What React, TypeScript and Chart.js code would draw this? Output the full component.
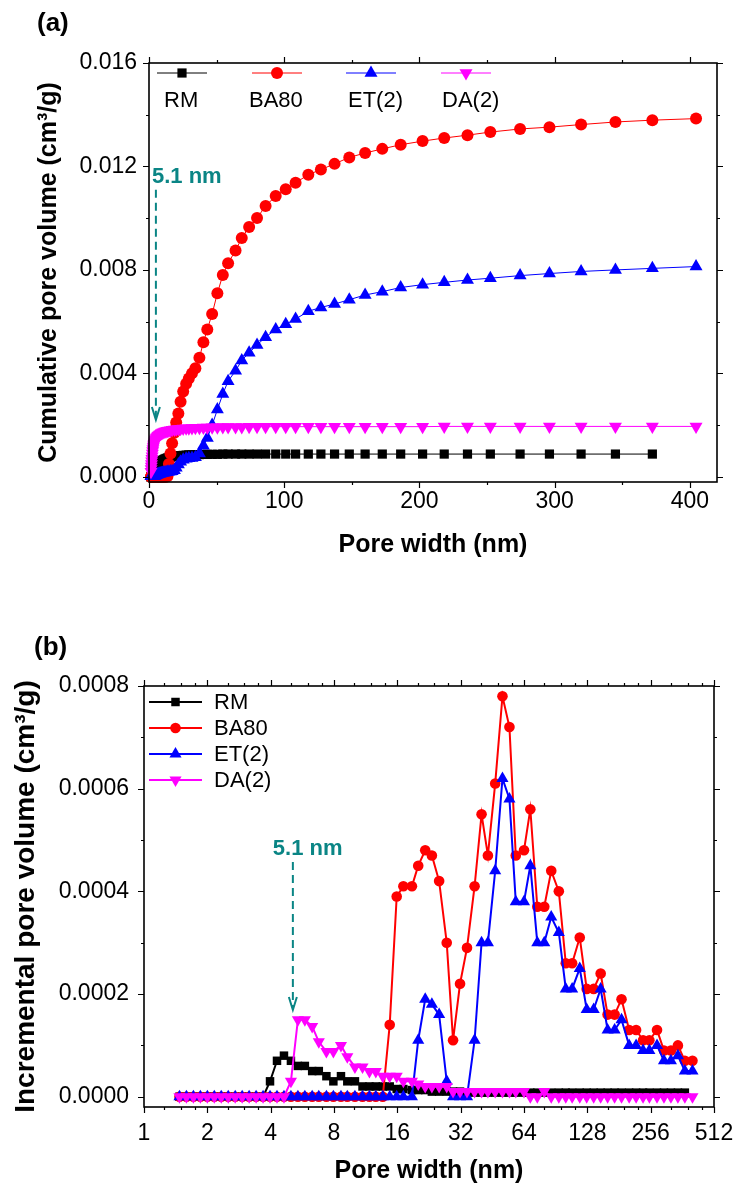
import React, { useEffect, useRef } from "react";
import { Chart, registerables } from "chart.js";
import { drawPoint } from "chart.js/helpers";

Chart.register(...registerables);

const FONT = 'Arial, "Liberation Sans", Helvetica, sans-serif';

// ---------------- DATA ----------------
const seriesNames = ["RM", "BA80", "ET(2)", "DA(2)"];

// pore width grid (nm), shared by both panels
const poreWidth = [
  1.474, 1.591, 1.717, 1.853, 2.0, 2.158, 2.329, 2.514, 2.713, 2.928,
  3.16, 3.411, 3.681, 3.972, 4.287, 4.627, 4.993, 5.389, 5.816, 6.3,
  6.774, 7.362, 7.945, 8.635, 9.254, 10.06, 10.93, 11.79, 12.64, 13.64,
  14.72, 15.89, 17.09, 18.77, 20.11, 21.71, 23.35, 25.28, 27.47, 29.44,
  31.78, 34.3, 37.27, 40.22, 43.11, 46.69, 50.56, 54.57, 58.49, 64.0,
  68.59, 74.03, 79.89, 86.22, 93.7, 101.1, 108.4, 117.8, 127.1, 137.2,
  148.1, 159.8, 172.5, 186.1, 202.3, 218.3, 235.5, 252.4, 274.4, 296.1,
  319.5, 344.9, 372.2, 404.5,
];

// (a) cumulative pore volume (cm3/g)
const cumRM = [
  0, 0, 0, 0, 0, 0, 0, 0, 0, 0,
  0, 0, 0, 0.00003, 0.0001, 0.00018, 0.00025, 0.00031, 0.00037, 0.00042,
  0.00047, 0.00051, 0.00054, 0.00058, 0.00061, 0.00064, 0.00067, 0.00069, 0.00071, 0.00073,
  0.00075, 0.00076, 0.00078, 0.00079, 0.0008, 0.00081, 0.00082, 0.00083, 0.00084, 0.00085,
  0.00085, 0.00086, 0.00086, 0.00087, 0.00087, 0.00087, 0.00087, 0.00088, 0.00088, 0.00088,
  0.00088, 0.00088, 0.00088, 0.00088, 0.00088, 0.00088, 0.00088, 0.00088, 0.00088, 0.00088,
  0.00088, 0.00088, 0.00088, 0.00088, 0.00088, 0.00088, 0.00088, 0.00088, 0.00088, 0.00088,
  0.00088, 0.00088, 0.00088, null,
];
const cumBA80 = [
  0, 0, 0, 0, 0, 0, 0, 0, 0, 0,
  0, 0, 0, 0, 0, 0, 0, 0, 0, 0,
  0, 0, 0, 0, 0, 0, 0, 0, 0, 0.00002,
  0.0005, 0.0009, 0.0013, 0.0017, 0.0021, 0.00245, 0.0029, 0.0033, 0.0036, 0.0038,
  0.004, 0.0042, 0.0046, 0.0052, 0.0057, 0.0063, 0.0071, 0.0078, 0.00826, 0.00875,
  0.00923, 0.00966, 0.01001, 0.01047, 0.01086, 0.01112, 0.01137, 0.01168, 0.01188, 0.0121,
  0.01235, 0.01252, 0.01268, 0.01284, 0.01298, 0.0131, 0.01321, 0.01333, 0.01345, 0.01352,
  0.01362, 0.01372, 0.01379, 0.01385,
];
const cumET = [
  0.00002, 0.00002, 0.00002, 0.00002, 0.00002, 0.00002, 0.00002, 0.00002, 0.00002, 0.00002,
  0.00002, 0.00002, 0.00002, 0.00003, 0.00004, 0.00005, 0.00006, 0.00007, 0.00008, 0.00009,
  0.0001, 0.00011, 0.00012, 0.00013, 0.00014, 0.00015, 0.00016, 0.00017, 0.00018, 0.00019,
  0.0002, 0.00021, 0.00022, 0.00025, 0.00035, 0.00048, 0.00058, 0.00066, 0.0007, 0.00072,
  0.00073, 0.00076, 0.0009, 0.0012, 0.0015, 0.002, 0.0026, 0.0032, 0.0037, 0.0041,
  0.0045, 0.0048, 0.0051, 0.0054, 0.0057, 0.0059, 0.0061, 0.0064, 0.00655, 0.00668,
  0.00685, 0.00703, 0.00716, 0.00732, 0.00743, 0.00752, 0.00761, 0.00768, 0.00778, 0.00786,
  0.00794, 0.008, 0.00806, 0.00813,
];
const cumDA = [
  0.0002, 0.0003, 0.0004, 0.0005, 0.0006, 0.0007, 0.0008, 0.0009, 0.001, 0.00108,
  0.00115, 0.00122, 0.00128, 0.00133, 0.00138, 0.00142, 0.00146, 0.0015, 0.00153, 0.00156,
  0.00159, 0.00162, 0.00164, 0.00167, 0.00169, 0.00171, 0.00173, 0.00175, 0.00176, 0.00178,
  0.00179, 0.0018, 0.00182, 0.00183, 0.00184, 0.00185, 0.00186, 0.00187, 0.00188, 0.00188,
  0.00189, 0.0019, 0.0019, 0.00191, 0.00191, 0.00192, 0.00192, 0.00193, 0.00193, 0.00193,
  0.00193, 0.00194, 0.00194, 0.00194, 0.00194, 0.00194, 0.00194, 0.00194, 0.00194, 0.00194,
  0.00194, 0.00194, 0.00194, 0.00194, 0.00194, 0.00195, 0.00195, 0.00195, 0.00195, 0.00195,
  0.00195, 0.00195, 0.00195, 0.00195,
];

// (b) incremental pore volume (cm3/g)
const incRM = [
  0, 0, 0, 0, 0, 0, 0, 0, 0, 0,
  0, 0, 0, 0.00003, 0.00007, 0.00008, 0.00007, 0.00006, 0.00006, 0.00005,
  0.00005, 0.00004, 0.00003, 0.00004, 0.00003, 0.00003, 0.00002, 0.00002, 0.00002, 0.00002,
  0.00002, 0.000015, 0.000015, 0.000013, 0.000013, 0.000013, 0.00001, 0.00001, 0.00001, 0.00001,
  0.00001, 0.000008, 0.000008, 0.000008, 0.000008, 0.000008, 0.000008, 0.000008, 0.000008, 0.000008,
  0.000008, 0.000008, 0.000008, 0.000008, 0.000008, 0.000008, 0.000008, 0.000008, 0.000008, 0.000008,
  0.000008, 0.000008, 0.000008, 0.000008, 0.000008, 0.000008, 0.000008, 0.000008, 0.000008, 0.000008,
  0.000008, 0.000008, 0.000008, null,
];
const incBA80 = [
  0, 0, 0, 0, 0, 0, 0, 0, 0, 0,
  0, 0, 0, 0, 0, 0, 0, 0, 0, 0,
  0, 0, 0, 0, 0, 0, 0, 0, 0, 0,
  0.00014, 0.00039, 0.00041, 0.00041, 0.00045, 0.00048, 0.00047, 0.00042, 0.0003, 0.00011,
  0.00022, 0.00029, 0.00041, 0.00055, 0.00047, 0.00061, 0.00078, 0.00072, 0.00047, 0.00048,
  0.00056, 0.00037, 0.00037, 0.00044, 0.0004, 0.00026, 0.00026, 0.00031, 0.00021, 0.00021,
  0.00024, 0.00016, 0.00016, 0.00019, 0.00013, 0.00013, 0.00011, 0.00011, 0.00013, 0.00009,
  0.00009, 0.0001, 0.00007, 0.00007,
];
const incET = [
  0, 0, 0, 0, 0, 0, 0, 0, 0, 0,
  0, 0, 0, 0, 0, 0, 0, 0, 0, 0,
  0, 0, 0, 0, 0, 0, 0, 0, 0, 0,
  0, 0, 0, 0, 0.00011, 0.00019, 0.00018, 0.00016, 0.00003, 0,
  0, 0, 0.00011, 0.0003, 0.0003, 0.00044, 0.00062, 0.00058, 0.00038, 0.00038,
  0.00045, 0.0003, 0.0003, 0.00035, 0.00032, 0.00021, 0.00021, 0.00025, 0.00017, 0.00017,
  0.00021, 0.00013, 0.00013, 0.00015, 0.0001, 0.0001, 0.00009, 0.00009, 0.0001, 0.00007,
  0.00007, 0.00008, 0.00005, 0.00005,
];
const incDA = [
  0, 0, 0, 0, 0, 0, 0, 0, 0, 0,
  0, 0, 0, 0, 0, 0, 0.00003, 0.00015, 0.00015, 0.000137,
  0.000107, 0.000088, 0.000088, 0.0001, 0.000078, 0.000058, 0.000058, 0.000049, 0.000049, 0.00004,
  0.00004, 0.00004, 0.00003, 0.00003, 0.000025, 0.00002, 0.00002, 0.00002, 0.00002, 0.00001,
  0.00001, 0.00001, 0.00001, 0.00001, 0.00001, 0.00001, 0.00001, 0.00001, 0.00001, 0.00001,
  0, 0, 0.00001, 0, 0, 0, 0, 0, 0, 0,
  0, 0, 0, 0, 0, 0, 0, 0, 0, 0,
  0, 0, 0, 0,
];

// axis ticks
const cumXTicks = [0, 100, 200, 300, 400];
const cumXMinor = [50, 150, 250, 350];
const cumYTicks = [0, 0.004, 0.008, 0.012, 0.016];
const cumYMinor = [0.002, 0.006, 0.01, 0.014];
const incXTicks = [1, 2, 4, 8, 16, 32, 64, 128, 256, 512];
const incYTicks = [0, 0.0002, 0.0004, 0.0006, 0.0008];
const incYMinor = [0.0001, 0.0003, 0.0005, 0.0007];
const notedWidth = 5.1; // "5.1 nm" annotation

// ---------------- STYLES ----------------
const styles = [
  { color: "#000000", pointStyle: "rect", rotation: 0, order: 4 },
  { color: "#ff0000", pointStyle: "circle", rotation: 0, order: 3 },
  { color: "#0000ff", pointStyle: "triangle", rotation: 0, order: 2 },
  { color: "#ff00ff", pointStyle: "triangle", rotation: 180, order: 1 },
];
const radiiA = [6.5, 6, 7.5, 7.5];
const radiiB = [6, 5.3, 7, 7];
const TEAL = "#0a8585";

function makeDatasets(values: (number | null)[][], lineWidth: number, radii: number[]) {
  return values.map((arr, si) => {
    const st = styles[si];
    return {
      label: seriesNames[si],
      data: poreWidth.map((x, i) => ({ x, y: arr[i] })),
      borderColor: st.color,
      backgroundColor: st.color,
      borderWidth: lineWidth,
      pointStyle: st.pointStyle,
      pointRotation: st.rotation,
      pointRadius: radii[si],
      pointBackgroundColor: st.color,
      pointBorderColor: st.color,
      pointBorderWidth: 0,
      tension: 0,
      order: st.order,
      clip: false,
    };
  });
}

function framePlugin(xMajor: number[], xMinor: number[], yMajor: number[], yMinor: number[]) {
  return {
    id: "frame",
    afterDatasetsDraw(chart: any) {
      const { ctx, chartArea: a } = chart;
      const xs = chart.scales.x;
      const ys = chart.scales.y;
      ctx.save();
      ctx.strokeStyle = "#000";
      ctx.lineWidth = 1.2;
      ctx.beginPath();
      const tx = (v: number, len: number) => {
        const p = Math.round(xs.getPixelForValue(v)) + 0.5;
        ctx.moveTo(p, a.bottom);
        ctx.lineTo(p, a.bottom + len);
        ctx.moveTo(p, a.top);
        ctx.lineTo(p, a.top - len);
      };
      const ty = (v: number, len: number) => {
        const p = Math.round(ys.getPixelForValue(v)) + 0.5;
        ctx.moveTo(a.left, p);
        ctx.lineTo(a.left - len, p);
        ctx.moveTo(a.right, p);
        ctx.lineTo(a.right + len, p);
      };
      xMajor.forEach((v) => tx(v, 6));
      xMinor.forEach((v) => tx(v, 3));
      yMajor.forEach((v) => ty(v, 6));
      yMinor.forEach((v) => ty(v, 3));
      ctx.stroke();
      ctx.lineWidth = 1.6;
      ctx.strokeRect(a.left, a.top, a.right - a.left, a.bottom - a.top);
      ctx.restore();
    },
  };
}

function drawMarker(ctx: CanvasRenderingContext2D, si: number, x: number, y: number, r: number) {
  const st = styles[si];
  ctx.save();
  ctx.fillStyle = st.color;
  ctx.strokeStyle = st.color;
  drawPoint(ctx, { pointStyle: st.pointStyle, rotation: st.rotation, radius: r, borderWidth: 0 } as any, x, y);
  ctx.restore();
}

function drawArrow(ctx: CanvasRenderingContext2D, x: number, y0: number, y1: number) {
  ctx.save();
  ctx.strokeStyle = TEAL;
  ctx.lineWidth = 2;
  ctx.setLineDash([8, 5]);
  ctx.beginPath();
  ctx.moveTo(x, y0);
  ctx.lineTo(x, y1 - 2);
  ctx.stroke();
  ctx.setLineDash([]);
  ctx.beginPath();
  ctx.moveTo(x - 4, y1 - 13);
  ctx.lineTo(x, y1);
  ctx.lineTo(x + 4, y1 - 13);
  ctx.stroke();
  ctx.restore();
}

const annotA = {
  id: "annotA",
  afterDraw(chart: any) {
    const { ctx } = chart;
    const xs = chart.scales.x;
    const ys = chart.scales.y;
    ctx.save();
    ctx.fillStyle = "#000";
    ctx.textBaseline = "middle";
    ctx.textAlign = "left";
    ctx.font = `bold 26px ${FONT}`;
    ctx.fillText("(a)", 37, 24);
    // legend: sample row + label row
    const centers = [182, 277, 371, 466];
    const labelLeft = [164, 249, 348, 442];
    centers.forEach((cx, si) => {
      ctx.strokeStyle = styles[si].color;
      ctx.lineWidth = 1;
      ctx.beginPath();
      ctx.moveTo(cx - 25, 73);
      ctx.lineTo(cx + 25, 73);
      ctx.stroke();
      drawMarker(ctx, si, cx, 73, radiiA[si]);
      ctx.fillStyle = "#000";
      ctx.font = `22px ${FONT}`;
      ctx.textAlign = "left";
      ctx.fillText(seriesNames[si], labelLeft[si], 101);
    });
    // 5.1 nm annotation
    const px = xs.getPixelForValue(notedWidth);
    ctx.fillStyle = TEAL;
    ctx.font = `bold 22px ${FONT}`;
    ctx.textAlign = "left";
    ctx.fillText("5.1 nm", xs.getPixelForValue(2.2), ys.getPixelForValue(0.0116));
    drawArrow(ctx, px, ys.getPixelForValue(0.0111), ys.getPixelForValue(0.0022));
    ctx.restore();
  },
};

const annotB = {
  id: "annotB",
  afterDraw(chart: any) {
    const { ctx } = chart;
    const xs = chart.scales.x;
    const ys = chart.scales.y;
    ctx.save();
    ctx.fillStyle = "#000";
    ctx.textBaseline = "middle";
    ctx.textAlign = "left";
    ctx.font = `bold 26px ${FONT}`;
    ctx.fillText("(b)", 34, 58);
    const rows = [112, 138, 164, 190];
    rows.forEach((ry, si) => {
      ctx.strokeStyle = styles[si].color;
      ctx.lineWidth = 2;
      ctx.beginPath();
      ctx.moveTo(149, ry);
      ctx.lineTo(202, ry);
      ctx.stroke();
      drawMarker(ctx, si, 175.5, ry, radiiB[si]);
      ctx.fillStyle = "#000";
      ctx.font = `22px ${FONT}`;
      ctx.textAlign = "left";
      ctx.fillText(seriesNames[si], 214, ry + 1);
    });
    const px = xs.getPixelForValue(notedWidth);
    ctx.fillStyle = TEAL;
    ctx.font = `bold 22px ${FONT}`;
    ctx.textAlign = "center";
    ctx.fillText("5.1 nm", xs.getPixelForValue(6.0), ys.getPixelForValue(0.000483));
    drawArrow(ctx, px, ys.getPixelForValue(0.000457), ys.getPixelForValue(0.000169));
    ctx.restore();
  },
};

const tickFont = { family: FONT, size: 23 };
const titleFont = { family: FONT, size: 25, weight: "bold" as const };

export default function App() {
  const refA = useRef<HTMLCanvasElement>(null);
  const refB = useRef<HTMLCanvasElement>(null);

  useEffect(() => {
    const chartA = new Chart(refA.current!, {
      type: "line",
      data: { datasets: makeDatasets([cumRM, cumBA80, cumET, cumDA], 1, radiiA) as any },
      options: {
        animation: false,
        responsive: false,
        maintainAspectRatio: false,
        events: [],
        layout: { padding: { left: 0, top: 63, right: 18, bottom: 0 } },
        plugins: { legend: { display: false }, tooltip: { enabled: false } },
        scales: {
          x: {
            type: "linear",
            min: 0,
            max: 420,
            afterBuildTicks: (s: any) => {
              s.ticks = cumXTicks.map((v) => ({ value: v }));
            },
            afterFit: (s: any) => {
              s.height = 108;
              s.paddingLeft = 0;
              s.paddingRight = 0;
            },
            grid: { display: false, drawTicks: false },
            border: { display: false },
            ticks: { font: tickFont, color: "#000", padding: 6, maxRotation: 0, autoSkip: false, callback: (v: any) => String(v) },
            title: { display: true, text: "Pore width (nm)", font: titleFont, color: "#000", padding: { top: 0, bottom: 30 } },
          },
          y: {
            type: "linear",
            min: -0.0002,
            max: 0.016,
            afterBuildTicks: (s: any) => {
              s.ticks = cumYTicks.map((v) => ({ value: v }));
            },
            afterFit: (s: any) => {
              s.width = 149;
              s.paddingTop = 0;
              s.paddingBottom = 0;
            },
            grid: { display: false, drawTicks: false },
            border: { display: false },
            ticks: { font: tickFont, color: "#000", padding: 12, autoSkip: false, callback: (v: any) => Number(v).toFixed(3) },
            title: { display: true, text: "Cumulative pore volume (cm³/g)", font: titleFont, color: "#000", padding: { top: 34, bottom: 0 } },
          },
        },
      },
      plugins: [framePlugin(cumXTicks, cumXMinor, cumYTicks, cumYMinor), annotA],
    } as any);

    const logMinor: number[] = [];
    incXTicks.slice(0, -1).forEach((m) => {
      logMinor.push(m * 1.25, m * 1.5, m * 1.75);
    });

    const chartB = new Chart(refB.current!, {
      type: "line",
      data: { datasets: makeDatasets([incRM, incBA80, incET, incDA], 2, radiiB) as any },
      options: {
        animation: false,
        responsive: false,
        maintainAspectRatio: false,
        events: [],
        layout: { padding: { left: 0, top: 96, right: 21, bottom: 0 } },
        plugins: { legend: { display: false }, tooltip: { enabled: false } },
        scales: {
          x: {
            type: "logarithmic",
            min: 1,
            max: 512,
            afterBuildTicks: (s: any) => {
              s.ticks = incXTicks.map((v) => ({ value: v }));
            },
            afterFit: (s: any) => {
              s.height = 80;
              s.paddingLeft = 0;
              s.paddingRight = 0;
            },
            grid: { display: false, drawTicks: false },
            border: { display: false },
            ticks: { font: tickFont, color: "#000", padding: 13, maxRotation: 0, autoSkip: false, callback: (v: any) => String(v) },
            title: { display: true, text: "Pore width (nm)", font: titleFont, color: "#000", padding: { top: 0, bottom: 1 } },
          },
          y: {
            type: "linear",
            min: -0.00002,
            max: 0.0008,
            afterBuildTicks: (s: any) => {
              s.ticks = incYTicks.map((v) => ({ value: v }));
            },
            afterFit: (s: any) => {
              s.width = 144;
              s.paddingTop = 0;
              s.paddingBottom = 0;
            },
            grid: { display: false, drawTicks: false },
            border: { display: false },
            ticks: { font: tickFont, color: "#000", padding: 15, autoSkip: false, callback: (v: any) => Number(v).toFixed(4) },
            title: { display: true, text: "Incremental pore volume (cm³/g)", font: { family: FONT, size: 28, weight: "bold" }, color: "#000", padding: { top: 9, bottom: 0 } },
          },
        },
      },
      plugins: [framePlugin(incXTicks, logMinor, incYTicks, incYMinor), annotB],
    } as any);

    return () => {
      chartA.destroy();
      chartB.destroy();
    };
  }, []);

  return (
    <div style={{ position: "absolute", left: 0, top: 0, width: 735, height: 1187, background: "#fff" }}>
      <canvas ref={refA} width={735} height={590} style={{ position: "absolute", left: 0, top: 0, width: 735, height: 590 }} />
      <canvas ref={refB} width={735} height={597} style={{ position: "absolute", left: 0, top: 590, width: 735, height: 597 }} />
    </div>
  );
}
